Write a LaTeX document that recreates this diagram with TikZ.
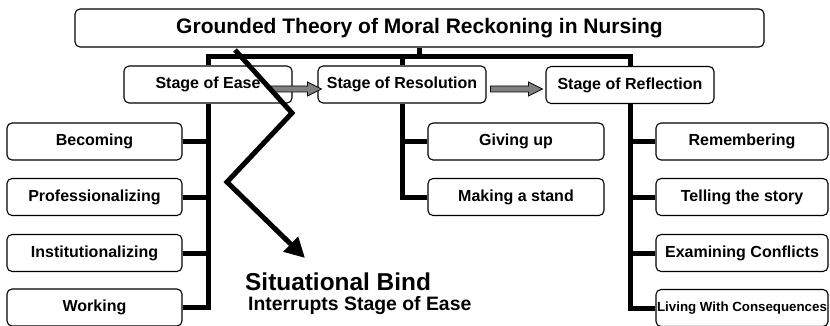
\documentclass[tikz,border=0pt]{standalone}
\usepackage{fontspec}
\setmainfont{Liberation Sans}
\usetikzlibrary{arrows.meta}

\tikzset{
	box/.style={draw, rounded corners=5pt, line width=1.1pt, minimum height=37pt, inner sep=0pt, font=\bfseries\fontsize{16}{18}\selectfont},
	trunk/.style={line width=5pt},
	grayarrow/.style={draw, fill=gray, line width=0.8pt, line join=miter},
	bindline/.style={line width=5pt, -{Triangle[length=20pt,width=20pt]}}
}

\begin{document}
\begin{tikzpicture}[x=1pt,y=1pt]
		\useasboundingbox (0,0) rectangle (830,-326);
		\node[box, minimum width=689pt, minimum height=38pt, font=\bfseries\fontsize{21}{24}\selectfont] (title) at (419.5,-28) {Grounded Theory of Moral Reckoning in Nursing};
		\node[box, minimum width=168pt] (ease) at (208,-84.5) {Stage of Ease};
		\node[box, minimum width=168pt] (res) at (402,-84.5) {Stage of Resolution};
		\node[box, minimum width=168pt] (refl) at (630,-85) {Stage of Reflection};
		% stage of ease
		\node[box, minimum width=175pt] (becoming) at (94.5,-141.5) {Becoming};
		\node[box, minimum width=175pt] (prof) at (94.5,-197) {Professionalizing};
		\node[box, minimum width=175pt] (inst) at (94.5,-253) {Institutionalizing};
		\node[box, minimum width=175pt] (working) at (94.5,-307.5) {Working};
		% stage of resolution
		\node[box, minimum width=176pt] (givingup) at (516,-141.5) {Giving up};
		\node[box, minimum width=176pt] (stand) at (516,-197) {Making a stand};
		% stage of reflection
		\node[box, minimum width=172pt] (remember) at (742,-141.5) {Remembering};
		\node[box, minimum width=172pt] (story) at (742,-197) {Telling the story};
		\node[box, minimum width=172pt] (conflicts) at (742,-253) {Examining Conflicts};
		\node[box, minimum width=172pt, font=\bfseries\fontsize{13.3}{15}\selectfont] (living) at (742,-308) {Living With Consequences};

		\coordinate (hub) at (419,-56.5);
		\draw[trunk] (title.south) -- (title.south |- hub);
		\draw[trunk] (ease.north) |- (hub) -| (refl.north);
		\draw[trunk] (res.north) -- (res.north |- hub);

		\draw[trunk] (ease.south) |- (working.east);
		\foreach \n in {becoming,prof,inst}
			\draw[trunk] (\n.east) -- (\n.east -| ease.south);
		\draw[trunk] (res.south) |- (stand.west);
		\draw[trunk] (givingup.west) -- (givingup.west -| res.south);
		\draw[trunk] (refl.south) |- (living.west);
		\foreach \n in {remember,story,conflicts}
			\draw[trunk] (\n.west) -- (\n.west -| refl.south);

		\draw[grayarrow] ([xshift=-22pt,yshift=-1.5pt]ease.east) coordinate (a1) -- ++(37,0) -- ++(0,4) -- ++(14,-7) -- ++(-14,-7) -- ++(0,4) -- ++(-37,0) -- cycle;
		\draw[grayarrow] ([xshift=4pt,yshift=-1.5pt]res.east) coordinate (a2) -- ++(38,0) -- ++(0,4) -- ++(14,-7) -- ++(-14,-7) -- ++(0,4) -- ++(-38,0) -- cycle;

		\node[anchor=base west, inner sep=0pt, font=\bfseries\fontsize{24.4}{28}\selectfont] (bind) at (245,-290) {Situational Bind};
		\node[anchor=base west, inner sep=0pt, font=\bfseries\fontsize{19.4}{22}\selectfont] (interrupts) at (248,-310) {Interrupts Stage of Ease};

		\coordinate (z1) at (235,-50);
		\coordinate (z2) at (292,-113);
		\coordinate (z3) at (227,-182);
		\coordinate (z4) at (305,-258);
		\draw[bindline] (z1) -- (z2) -- (z3) -- (z4);
	\end{tikzpicture}
\end{document}
